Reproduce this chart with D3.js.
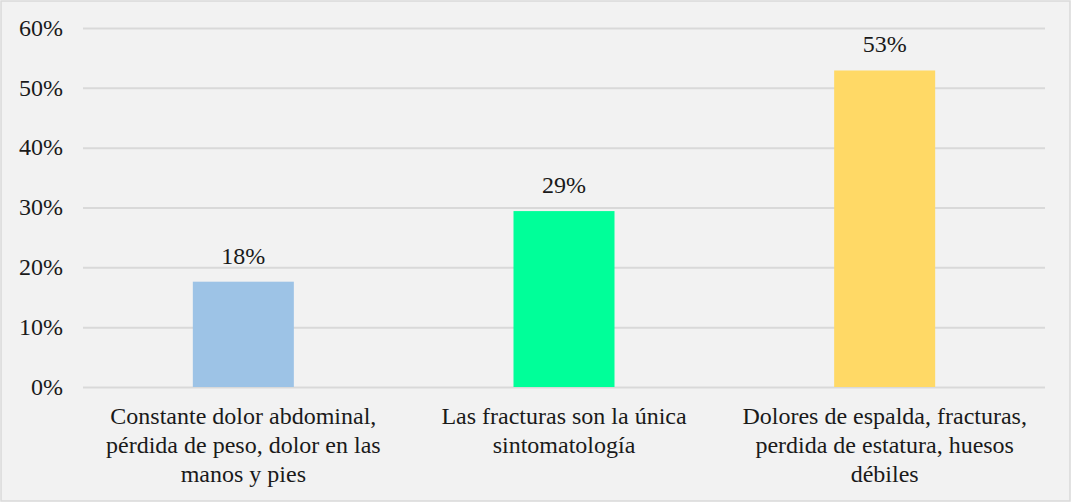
<!DOCTYPE html>
<html>
<head>
<meta charset="utf-8">
<script src="https://cdn.jsdelivr.net/npm/d3@7"></script>
<style>
    body { margin: 0; background: #fff; }
    svg text { font-family: "Liberation Serif", "Times New Roman", serif; fill: #1a1a1a; }
</style>
</head>
<body>
<div id="vis"></div>
<script>
const categories = ["c1", "c2", "c3"];
const categoryLines = [
    ["Constante dolor abdominal,", "pérdida de peso, dolor en las", "manos y pies"],
    ["Las fracturas son la única", "sintomatología"],
    ["Dolores de espalda, fracturas,", "perdida de estatura, huesos", "débiles"]
];
const values = [0.176, 0.294, 0.529];
const valueLabels = ["18%", "29%", "53%"];
const barColors = ["#9dc3e6", "#00ff99", "#ffd966"];
const yTicks = [0, 0.1, 0.2, 0.3, 0.4, 0.5, 0.6];

const W = 1072, H = 503;
const margin = { top: 28, right: 27, bottom: 116, left: 83 };
const width = W - margin.left - margin.right;
const height = H - margin.top - margin.bottom;
const fontSize = 24;

const root = d3.select("#vis").append("svg")
    .attr("width", W)
    .attr("height", H);

root.append("rect")
    .attr("x", 1).attr("y", 1)
    .attr("width", W - 3).attr("height", H - 3)
    .attr("fill", "#f2f2f2")
    .attr("stroke", "#d9d9d9")
    .attr("stroke-width", 1.5);

const svg = root.append("g")
    .attr("transform", `translate(${margin.left},${margin.top})`);

const x = d3.scaleBand().domain(categories).range([0, width]).padding(0);
const y = d3.scaleLinear().domain([0, 0.6]).range([height, 0]);
const barW = x.bandwidth() * 0.315;

// gridlines
svg.append("g")
    .call(d3.axisLeft(y).tickValues(yTicks).tickSize(-width).tickFormat(""))
    .call(g => g.select(".domain").remove())
    .call(g => g.selectAll("line").attr("stroke", "#d9d9d9").attr("stroke-width", 2));

// y labels
svg.append("g")
    .call(d3.axisLeft(y).tickValues(yTicks).tickSize(0).tickPadding(20).tickFormat(d3.format(".0%")))
    .call(g => g.select(".domain").remove())
    .call(g => g.selectAll("text").attr("font-size", fontSize).attr("dy", "0.3em"));

// bars
svg.selectAll(".bar")
    .data(values)
    .join("rect")
    .attr("class", "bar")
    .attr("x", (d, i) => x(categories[i]) + (x.bandwidth() - barW) / 2)
    .attr("y", d => y(d))
    .attr("width", barW)
    .attr("height", d => height - y(d))
    .attr("fill", (d, i) => barColors[i]);

// value labels
svg.selectAll(".val")
    .data(values)
    .join("text")
    .attr("class", "val")
    .attr("x", (d, i) => x(categories[i]) + x.bandwidth() / 2)
    .attr("y", d => y(d) - 18)
    .attr("text-anchor", "middle")
    .attr("font-size", fontSize)
    .text((d, i) => valueLabels[i]);

// category labels
categoryLines.forEach((lines, i) => {
    const t = svg.append("text")
        .attr("text-anchor", "middle")
        .attr("font-size", fontSize)
        .attr("transform", `translate(${x(categories[i]) + x.bandwidth() / 2},${height + 37})`);
    lines.forEach((ln, k) => {
        t.append("tspan").attr("x", 0).attr("y", k * 29).text(ln);
    });
});
</script>
</body>
</html>
